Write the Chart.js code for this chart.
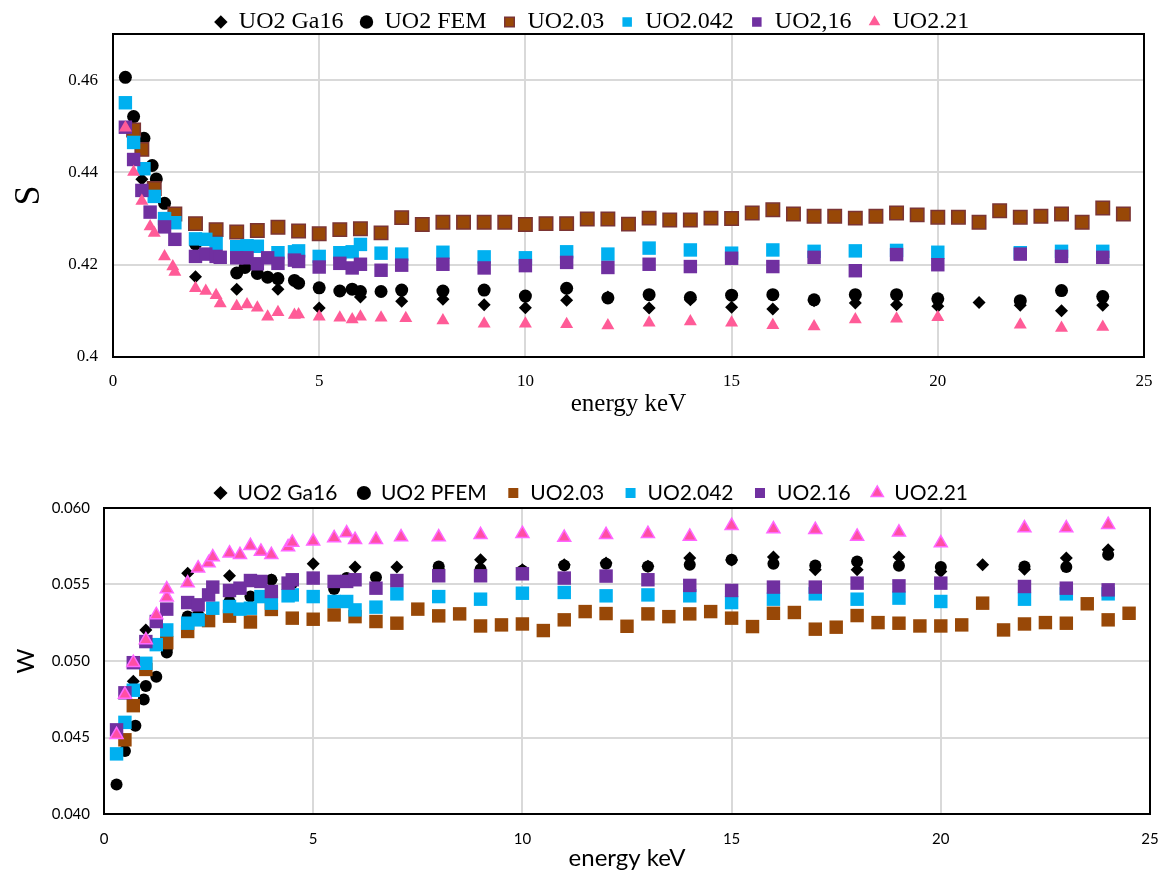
<!DOCTYPE html>
<html><head><meta charset="utf-8">
<script src="https://cdn.jsdelivr.net/npm/chart.js@4.4.0/dist/chart.umd.min.js"></script>
<style>
html,body{margin:0;padding:0;background:#fff;}
#c1{position:absolute;left:0;top:0;}
#c2{position:absolute;left:0;top:440px;}
</style></head><body>
<canvas id="c1" width="1163" height="430"></canvas>
<canvas id="c2" width="1163" height="433"></canvas>
<script>
// ---------- TOP CHART (S parameter) ----------
const seriesNamesS = ['UO2 Ga16', 'UO2 FEM', 'UO2.03', 'UO2.042', 'UO2,16', 'UO2.21'];
const seriesNamesW = ['UO2 Ga16', 'UO2 PFEM', 'UO2.03', 'UO2.042', 'UO2.16', 'UO2.21'];
const xTicks = [0, 5, 10, 15, 20, 25];
const sTicks = [0.40, 0.42, 0.44, 0.46];
const wTicks = [0.040, 0.045, 0.050, 0.055, 0.060];

const sGa16E = [0.7, 2, 3, 4, 5, 6, 7, 8, 9, 10, 11, 12, 13, 14, 15, 16, 17, 18, 19, 20, 21, 22, 23, 24];
const sGa16 = [0.4385, 0.4174, 0.4147, 0.4147, 0.4106, 0.4130, 0.4121, 0.4125, 0.4113, 0.4107, 0.4123, 0.4130, 0.4106, 0.4124, 0.4108, 0.4104, 0.4122, 0.4117, 0.4113, 0.4110, 0.4118, 0.4112, 0.4100, 0.4112];

const sFemE = [0.3, 0.5, 0.75, 0.95, 1.05, 1.25, 2.0, 3.0, 3.2, 3.5, 3.75, 4.0, 4.4, 4.5, 5.0, 5.5, 5.8, 6.0, 6.5, 7, 8, 9, 10, 11, 12, 13, 14, 15, 16, 17, 18, 19, 20, 22, 23, 24];
const sFem = [0.4606, 0.4521, 0.4474, 0.4415, 0.4386, 0.4333, 0.4245, 0.4182, 0.4194, 0.4181, 0.4173, 0.4170, 0.4166, 0.4160, 0.4150, 0.4143, 0.4147, 0.4142, 0.4142, 0.4145, 0.4143, 0.4145, 0.4132, 0.4149, 0.4128, 0.4135, 0.4129, 0.4134, 0.4135, 0.4124, 0.4135, 0.4135, 0.4126, 0.4122, 0.4144, 0.4131];

const s203E = [0.5, 0.7, 1.0, 1.5, 2.0, 2.5, 3.0, 3.5, 4.0, 4.5, 5.0, 5.5, 6.0, 6.5, 7.0, 7.5, 8.0, 8.5, 9.0, 9.5, 10.0, 10.5, 11.0, 11.5, 12.0, 12.5, 13.0, 13.5, 14.0, 14.5, 15.0, 15.5, 16.0, 16.5, 17.0, 17.5, 18.0, 18.5, 19.0, 19.5, 20.0, 20.5, 21.0, 21.5, 22.0, 22.5, 23.0, 23.5, 24.0, 24.5];
const s203 = [0.4492, 0.4450, 0.4365, 0.4310, 0.4289, 0.4276, 0.4271, 0.4274, 0.4281, 0.4273, 0.4267, 0.4276, 0.4278, 0.4269, 0.4302, 0.4287, 0.4292, 0.4292, 0.4292, 0.4292, 0.4287, 0.4289, 0.4289, 0.4299, 0.4299, 0.4288, 0.4301, 0.4297, 0.4297, 0.4301, 0.4300, 0.4312, 0.4319, 0.4310, 0.4305, 0.4305, 0.4301, 0.4305, 0.4312, 0.4308, 0.4303, 0.4303, 0.4292, 0.4317, 0.4303, 0.4305, 0.4310, 0.4292, 0.4323, 0.4310];

const s2042E = [0.3, 0.5, 0.75, 1.0, 1.25, 1.5, 2.0, 2.25, 2.5, 3.0, 3.25, 3.5, 4.0, 4.4, 4.5, 5.0, 5.5, 5.8, 6.0, 6.5, 7, 8, 9, 10, 11, 12, 13, 14, 15, 16, 17, 18, 19, 20, 22, 23, 24];
const s2042 = [0.4551, 0.4465, 0.4408, 0.4348, 0.4300, 0.4291, 0.4256, 0.4255, 0.4246, 0.4239, 0.4241, 0.4240, 0.4226, 0.4228, 0.4230, 0.4218, 0.4226, 0.4228, 0.4244, 0.4225, 0.4223, 0.4227, 0.4217, 0.4215, 0.4228, 0.4223, 0.4236, 0.4232, 0.4225, 0.4232, 0.4229, 0.4230, 0.4231, 0.4227, 0.4226, 0.4229, 0.4229];

const s216E = [0.3, 0.5, 0.7, 0.9, 1.25, 1.5, 2.0, 2.25, 2.5, 2.6, 3.0, 3.25, 3.5, 3.75, 4.0, 4.4, 4.5, 5.0, 5.5, 5.8, 6.0, 6.5, 7, 8, 9, 10, 11, 12, 13, 14, 15, 16, 17, 18, 19, 20, 22, 23, 24];
const s216 = [0.4498, 0.4428, 0.4361, 0.4314, 0.4282, 0.4255, 0.4218, 0.4223, 0.4218, 0.4216, 0.4215, 0.4215, 0.4202, 0.4215, 0.4203, 0.4210, 0.4207, 0.4195, 0.4203, 0.4193, 0.4201, 0.4188, 0.4199, 0.4201, 0.4193, 0.4198, 0.4205, 0.4194, 0.4201, 0.4196, 0.4214, 0.4196, 0.4216, 0.4187, 0.4222, 0.4200, 0.4223, 0.4218, 0.4216];

const s221E = [0.3, 0.5, 0.7, 0.9, 1.0, 1.25, 1.45, 1.5, 2.0, 2.25, 2.5, 2.6, 3.0, 3.25, 3.5, 3.75, 4.0, 4.4, 4.5, 5.0, 5.5, 5.8, 6.0, 6.5, 7.1, 8, 9, 10, 11, 12, 13, 14, 15, 16, 17, 18, 19, 20, 22, 23, 24];
const s221 = [0.4497, 0.4401, 0.4338, 0.4283, 0.4269, 0.4218, 0.4196, 0.4184, 0.4149, 0.4143, 0.4134, 0.4116, 0.4110, 0.4114, 0.4107, 0.4087, 0.4097, 0.4091, 0.4092, 0.4087, 0.4085, 0.4081, 0.4087, 0.4085, 0.4084, 0.4079, 0.4072, 0.4072, 0.4071, 0.4068, 0.4074, 0.4077, 0.4074, 0.4069, 0.4066, 0.4081, 0.4083, 0.4086, 0.4070, 0.4063, 0.4065];

// ---------- BOTTOM CHART (W parameter) ----------
const wGa16E = [0.7, 1.0, 2.0, 3.0, 4.0, 5.0, 6.0, 7.0, 8.0, 9.0, 10.0, 11.0, 12.0, 13.0, 14.0, 15.0, 16.0, 17.0, 18.0, 19.0, 20.0, 21.0, 22.0, 23.0, 24.0];
const wGa16 = [0.04868, 0.05203, 0.05574, 0.05557, 0.05530, 0.05635, 0.05614, 0.05614, 0.05600, 0.05662, 0.05596, 0.05629, 0.05640, 0.05620, 0.05673, 0.05660, 0.05679, 0.05596, 0.05596, 0.05679, 0.05585, 0.05629, 0.05600, 0.05673, 0.05727];

const wPfemE = [0.3, 0.5, 0.75, 0.95, 1.0, 1.25, 1.5, 1.5, 2.0, 2.25, 3.0, 3.5, 4.0, 4.5, 5.5, 5.8, 6.0, 6.5, 8, 9, 10, 11, 12, 13, 14, 15, 16, 17, 18, 19, 20, 22, 23, 24];
const wPfem = [0.04193, 0.04412, 0.04577, 0.04748, 0.04836, 0.04897, 0.05055, 0.05075, 0.05291, 0.05302, 0.05389, 0.05422, 0.05531, 0.05509, 0.05470, 0.05542, 0.05531, 0.05548, 0.05618, 0.05600, 0.05590, 0.05625, 0.05636, 0.05618, 0.05629, 0.05662, 0.05636, 0.05625, 0.05651, 0.05622, 0.05615, 0.05618, 0.05614, 0.05695];

const w203E = [0.5, 0.7, 1.0, 1.5, 2.0, 2.5, 3.0, 3.5, 4.0, 4.5, 5.0, 5.5, 6.0, 6.5, 7.0, 7.5, 8.0, 8.5, 9.0, 9.5, 10.0, 10.5, 11.0, 11.5, 12.0, 12.5, 13.0, 13.5, 14.0, 14.5, 15.0, 15.5, 16.0, 16.5, 17.0, 17.5, 18.0, 18.5, 19.0, 19.5, 20.0, 20.5, 21.0, 21.5, 22.0, 22.5, 23.0, 23.5, 24.0, 24.5];
const w203 = [0.04485, 0.04708, 0.04945, 0.05120, 0.05193, 0.05264, 0.05293, 0.05255, 0.05337, 0.05280, 0.05273, 0.05301, 0.05290, 0.05258, 0.05247, 0.05339, 0.05295, 0.05308, 0.05229, 0.05236, 0.05242, 0.05199, 0.05269, 0.05323, 0.05310, 0.05227, 0.05308, 0.05290, 0.05308, 0.05323, 0.05280, 0.05225, 0.05312, 0.05317, 0.05208, 0.05221, 0.05297, 0.05251, 0.05247, 0.05229, 0.05229, 0.05236, 0.05378, 0.05203, 0.05242, 0.05251, 0.05247, 0.05374, 0.05269, 0.05312];

const w2042E = [0.3, 0.5, 0.7, 1.0, 1.25, 1.5, 2.0, 2.25, 2.6, 3.0, 3.25, 3.5, 3.75, 4.0, 4.4, 4.5, 5.0, 5.5, 5.8, 6.0, 6.5, 7, 8, 9, 10, 11, 12, 13, 14, 15, 16, 17, 18, 19, 20, 22, 23, 24];
const w2042 = [0.04393, 0.04599, 0.04809, 0.04985, 0.05107, 0.05203, 0.05247, 0.05269, 0.05345, 0.05356, 0.05339, 0.05345, 0.05421, 0.05378, 0.05426, 0.05432, 0.05421, 0.05389, 0.05389, 0.05334, 0.05352, 0.05439, 0.05421, 0.05404, 0.05443, 0.05448, 0.05426, 0.05432, 0.05426, 0.05382, 0.05404, 0.05439, 0.05404, 0.05411, 0.05389, 0.05404, 0.05439, 0.05439];

const w216E = [0.3, 0.5, 0.7, 1.0, 1.25, 1.5, 2.0, 2.25, 2.5, 2.6, 3.0, 3.25, 3.5, 3.75, 4.0, 4.4, 4.5, 5.0, 5.5, 5.8, 6.0, 6.5, 7, 8, 9, 10, 11, 12, 13, 14, 15, 16, 17, 18, 19, 20, 22, 23, 24];
const w216 = [0.04550, 0.04792, 0.04989, 0.05127, 0.05258, 0.05339, 0.05382, 0.05367, 0.05432, 0.05483, 0.05461, 0.05476, 0.05526, 0.05520, 0.05454, 0.05509, 0.05531, 0.05542, 0.05520, 0.05520, 0.05531, 0.05476, 0.05526, 0.05557, 0.05557, 0.05570, 0.05542, 0.05555, 0.05531, 0.05494, 0.05461, 0.05483, 0.05483, 0.05509, 0.05491, 0.05509, 0.05487, 0.05476, 0.05465];

const w221E = [0.3, 0.5, 0.7, 1.0, 1.25, 1.5, 1.5, 2.0, 2.25, 2.5, 2.6, 3.0, 3.25, 3.5, 3.75, 4.0, 4.4, 4.5, 5.0, 5.5, 5.8, 6.0, 6.5, 7.1, 8, 9, 10, 11, 12, 13, 14, 15, 16, 17, 18, 19, 20, 22, 23, 24];
const w221 = [0.04518, 0.04781, 0.04989, 0.05138, 0.05301, 0.05417, 0.05470, 0.05509, 0.05607, 0.05640, 0.05679, 0.05705, 0.05694, 0.05753, 0.05716, 0.05694, 0.05745, 0.05775, 0.05782, 0.05804, 0.05836, 0.05793, 0.05793, 0.05810, 0.05810, 0.05825, 0.05832, 0.05807, 0.05825, 0.05832, 0.05814, 0.05884, 0.05862, 0.05858, 0.05814, 0.05841, 0.05771, 0.05869, 0.05869, 0.05891];

// ---------- helpers ----------
function pts(xs, ys) { return xs.map((x, i) => ({ x: x, y: ys[i] })); }

const frame = {
  id: 'frame',
  beforeDatasetsDraw(chart) {
    const a = chart.chartArea, ctx = chart.ctx;
    ctx.save();
    ctx.strokeStyle = '#000';
    ctx.lineWidth = 2;
    ctx.strokeRect(a.left, a.top, a.right - a.left, a.bottom - a.top);
    ctx.restore();
  }
};

function mkSet(label, data, style, idx, n) {
  return Object.assign({ label: label, data: data, showLine: false, order: n - 1 - idx, clip: false }, style);
}

const SERIF = "'Liberation Serif', 'Times New Roman', serif";
const SANS = "Lato, Calibri, 'Liberation Sans', sans-serif";

const stylesS = [
  { pointStyle: 'rectRot', pointRadius: 6.5, backgroundColor: '#000000', borderColor: '#000000', borderWidth: 0 },
  { pointStyle: 'circle', pointRadius: 6.5, backgroundColor: '#000000', borderColor: '#000000', borderWidth: 0 },
  { pointStyle: 'rect', pointRadius: 9.5, backgroundColor: '#984807', borderColor: '#7b3434', borderWidth: 1.5 },
  { pointStyle: 'rect', pointRadius: 9.5, backgroundColor: '#00b0f0', borderColor: '#00b0f0', borderWidth: 0 },
  { pointStyle: 'rect', pointRadius: 9.5, backgroundColor: '#7030a0', borderColor: '#7030a0', borderWidth: 0 },
  { pointStyle: 'triangle', pointRadius: 7.5, backgroundColor: '#ff5b97', borderColor: '#ff5b97', borderWidth: 0 }
];
const stylesW = [
  { pointStyle: 'rectRot', pointRadius: 6.5, backgroundColor: '#000000', borderColor: '#000000', borderWidth: 0 },
  { pointStyle: 'circle', pointRadius: 6, backgroundColor: '#000000', borderColor: '#000000', borderWidth: 0 },
  { pointStyle: 'rect', pointRadius: 9.5, backgroundColor: '#984807', borderColor: '#984807', borderWidth: 0 },
  { pointStyle: 'rect', pointRadius: 9.5, backgroundColor: '#00b0f0', borderColor: '#00b0f0', borderWidth: 0 },
  { pointStyle: 'rect', pointRadius: 9.5, backgroundColor: '#7030a0', borderColor: '#7030a0', borderWidth: 0 },
  { pointStyle: 'triangle', pointRadius: 7.5, backgroundColor: '#ff4fa3', borderColor: '#ff66ff', borderWidth: 1.5 }
];

const dataS = [pts(sGa16E, sGa16), pts(sFemE, sFem), pts(s203E, s203), pts(s2042E, s2042), pts(s216E, s216), pts(s221E, s221)];
const dataW = [pts(wGa16E, wGa16), pts(wPfemE, wPfem), pts(w203E, w203), pts(w2042E, w2042), pts(w216E, w216), pts(w221E, w221)];

function onTicks(list) {
  return function (scale) { scale.ticks = list.map(v => ({ value: v })); };
}
function fixX(h) {
  return function (s) { s.height = h; s.paddingLeft = 0; s.paddingRight = 0; };
}

// ---------- top chart ----------
new Chart(document.getElementById('c1'), {
  type: 'scatter',
  data: { datasets: dataS.map((d, i) => mkSet(seriesNamesS[i], d, stylesS[i], i, 6)) },
  options: {
    responsive: false, animation: false, devicePixelRatio: 1,
    layout: { padding: { top: -7, left: 40, right: 19, bottom: 0 } },
    plugins: {
      tooltip: { enabled: false },
      legend: {
        position: 'top', maxHeight: 41,
        labels: {
          usePointStyle: true, boxHeight: 9.5, boxWidth: 12, padding: 17, color: '#000',
          font: { family: SERIF, size: 24 },
          sort: (a, b) => a.datasetIndex - b.datasetIndex
        }
      }
    },
    scales: {
      x: {
        type: 'linear', min: 0, max: 25,
        afterBuildTicks: onTicks(xTicks),
        afterFit: fixX(73),
        ticks: { padding: 14, color: '#000', font: { family: SERIF, size: 17 }, maxRotation: 0 },
        grid: { color: '#d9d9d9', lineWidth: 2, drawTicks: false },
        border: { display: false },
        title: { display: true, text: 'energy keV', color: '#000', font: { family: SERIF, size: 25 }, padding: { top: 0, bottom: 11 } }
      },
      y: {
        type: 'linear', min: 0.40, max: 0.47,
        afterBuildTicks: onTicks(sTicks),
        afterFit: s => { s.width = 73; },
        ticks: { padding: 15, color: '#000', font: { family: SERIF, size: 17 },
          callback: v => String(Math.round(v * 100) / 100) },
        grid: { color: '#d9d9d9', lineWidth: 2, drawTicks: false },
        border: { display: false },
        title: { display: true, text: 'S', color: '#000', font: { family: SERIF, size: 36 }, padding: { top: -31.6, bottom: 0 } }
      }
    }
  },
  plugins: [frame]
});

// ---------- bottom chart ----------
new Chart(document.getElementById('c2'), {
  type: 'scatter',
  data: { datasets: dataW.map((d, i) => mkSet(seriesNamesW[i], d, stylesW[i], i, 6)) },
  options: {
    responsive: false, animation: false, devicePixelRatio: 1,
    layout: { padding: { top: 22.5, left: 32, right: 13, bottom: 0 } },
    plugins: {
      tooltip: { enabled: false },
      legend: {
        position: 'top', maxHeight: 45.5,
        labels: {
          usePointStyle: true, boxHeight: 10, boxWidth: 13, padding: 20, color: '#000',
          font: { family: SANS, size: 21 },
          sort: (a, b) => a.datasetIndex - b.datasetIndex
        }
      }
    },
    scales: {
      x: {
        type: 'linear', min: 0, max: 25,
        afterBuildTicks: onTicks(xTicks),
        afterFit: fixX(59),
        ticks: { padding: 16, color: '#000', font: { family: SANS, size: 15 }, maxRotation: 0 },
        grid: { color: '#d9d9d9', lineWidth: 2, drawTicks: false },
        border: { display: false },
        title: { display: true, text: 'energy keV', color: '#000', font: { family: SANS, size: 24 }, padding: { top: 0, bottom: 0 } }
      },
      y: {
        type: 'linear', min: 0.040, max: 0.060,
        afterBuildTicks: onTicks(wTicks),
        afterFit: s => { s.width = 72; },
        ticks: { padding: 14, color: '#000', font: { family: SANS, size: 15 },
          callback: v => v.toFixed(3) },
        grid: { color: '#d9d9d9', lineWidth: 2, drawTicks: false },
        border: { display: false },
        title: { display: true, text: 'W', color: '#000', font: { family: SANS, size: 24 }, padding: { top: -20.4, bottom: 0 } }
      }
    }
  },
  plugins: [frame]
});
</script>
</body></html>
